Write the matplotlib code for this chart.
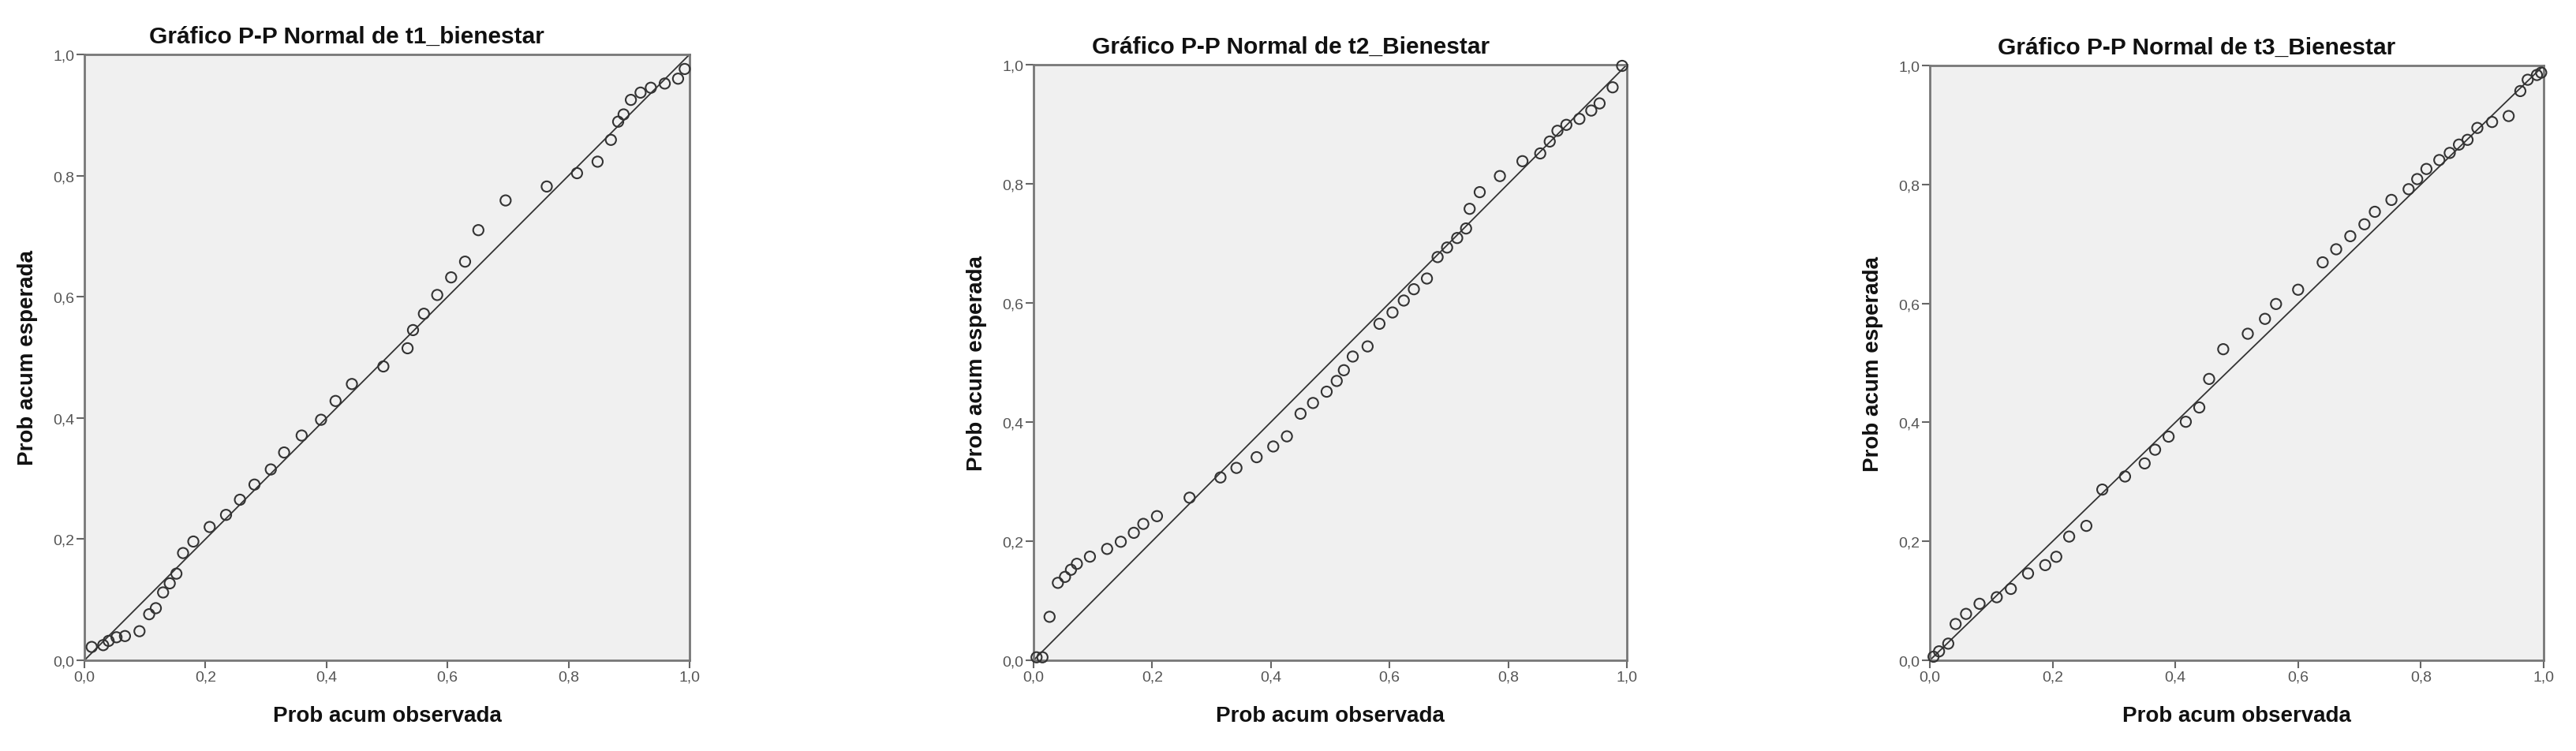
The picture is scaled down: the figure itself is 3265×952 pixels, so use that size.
import matplotlib
matplotlib.use("Agg")
import matplotlib.pyplot as plt
from matplotlib.ticker import FuncFormatter

plt.rcParams['font.family'] = ['Liberation Sans', 'DejaVu Sans']

t1_obs = [0.012, 0.031, 0.040, 0.053, 0.067, 0.091, 0.107, 0.118, 0.130, 0.141,
          0.152, 0.163, 0.180, 0.207, 0.234, 0.257, 0.281, 0.308, 0.330, 0.359,
          0.391, 0.415, 0.442, 0.494, 0.534, 0.543, 0.561, 0.583, 0.606, 0.629,
          0.651, 0.696, 0.764, 0.814, 0.848, 0.870, 0.882, 0.891, 0.903, 0.919,
          0.936, 0.959, 0.981, 0.992]
t1_exp = [0.022, 0.025, 0.032, 0.038, 0.040, 0.048, 0.076, 0.086, 0.112, 0.127,
          0.143, 0.177, 0.196, 0.220, 0.240, 0.265, 0.290, 0.315, 0.343, 0.371,
          0.397, 0.428, 0.456, 0.485, 0.515, 0.545, 0.572, 0.603, 0.632, 0.658,
          0.710, 0.759, 0.782, 0.804, 0.823, 0.859, 0.889, 0.901, 0.925, 0.937,
          0.945, 0.952, 0.960, 0.976]

t2_obs = [0.005, 0.015, 0.027, 0.041, 0.053, 0.063, 0.073, 0.095, 0.124, 0.147,
          0.169, 0.185, 0.208, 0.263, 0.315, 0.342, 0.376, 0.404, 0.427, 0.450,
          0.471, 0.494, 0.511, 0.523, 0.538, 0.563, 0.583, 0.605, 0.624, 0.641,
          0.663, 0.681, 0.697, 0.714, 0.729, 0.735, 0.752, 0.786, 0.824, 0.854,
          0.870, 0.883, 0.898, 0.920, 0.940, 0.954, 0.976, 0.992]
t2_exp = [0.005, 0.005, 0.073, 0.130, 0.140, 0.152, 0.162, 0.174, 0.187, 0.199,
          0.214, 0.229, 0.242, 0.273, 0.307, 0.323, 0.341, 0.359, 0.376, 0.414,
          0.432, 0.451, 0.469, 0.487, 0.510, 0.527, 0.565, 0.584, 0.604, 0.623,
          0.641, 0.677, 0.693, 0.709, 0.725, 0.758, 0.786, 0.813, 0.838, 0.851,
          0.871, 0.889, 0.899, 0.909, 0.923, 0.935, 0.962, 0.998]

t3_obs = [0.006, 0.015, 0.030, 0.042, 0.059, 0.081, 0.109, 0.132, 0.160, 0.188,
          0.206, 0.227, 0.255, 0.281, 0.318, 0.350, 0.367, 0.389, 0.417, 0.439,
          0.455, 0.478, 0.518, 0.546, 0.564, 0.600, 0.640, 0.662, 0.685, 0.708,
          0.725, 0.752, 0.780, 0.794, 0.809, 0.830, 0.847, 0.862, 0.876, 0.892,
          0.916, 0.943, 0.962, 0.974, 0.989, 0.996]
t3_exp = [0.006, 0.015, 0.028, 0.061, 0.078, 0.095, 0.106, 0.120, 0.146, 0.160,
          0.174, 0.208, 0.226, 0.287, 0.309, 0.331, 0.354, 0.376, 0.401, 0.425,
          0.473, 0.523, 0.549, 0.574, 0.599, 0.623, 0.669, 0.691, 0.713, 0.733,
          0.754, 0.774, 0.792, 0.809, 0.826, 0.841, 0.853, 0.867, 0.875, 0.895,
          0.905, 0.915, 0.957, 0.976, 0.984, 0.988]

titles = ['Gráfico P-P Normal de t1_bienestar',
          'Gráfico P-P Normal de t2_Bienestar',
          'Gráfico P-P Normal de t3_Bienestar']
ticks = [0.0, 0.2, 0.4, 0.6, 0.8, 1.0]

W, H = 3266, 953
# axes boxes in pixels: left, top, right, bottom
boxes = [(107, 70, 874, 838), (1310, 83, 2062, 838), (2446, 84, 3224, 838)]

fig = plt.figure(figsize=(W / 100, H / 100), dpi=100)
comma = FuncFormatter(lambda v, p: f'{v:.1f}'.replace('.', ','))

for (l, t, r, b), title, xs, ys in zip(boxes, titles, [t1_obs, t2_obs, t3_obs],
                                       [t1_exp, t2_exp, t3_exp]):
    ax = fig.add_axes([l / W, (H - b) / H, (r - l) / W, (b - t) / H])
    ax.set_facecolor('#f0f0f0')
    ax.plot([0, 1], [0, 1], color='#333333', lw=1.3, zorder=2)
    ax.scatter(xs, ys, s=90, facecolors='none', edgecolors='#333333',
               linewidths=1.5, zorder=3, clip_on=False)
    ax.set_xlim(0, 1)
    ax.set_ylim(0, 1)
    ax.set_xticks(ticks)
    ax.set_yticks(ticks)
    ax.xaxis.set_major_formatter(comma)
    ax.yaxis.set_major_formatter(comma)
    ax.tick_params(direction='out', length=7, width=1.5, color='#666666',
                   labelcolor='#555555', labelsize=14, pad=2)
    for s in ax.spines.values():
        s.set_color('#777777')
        s.set_linewidth(2)
    # SPSS centres the title over the whole chart frame, a bit left of the axes centre
    ax.set_title(title, x=0.434, fontsize=21.5, fontweight='bold', pad=11, color='#111111')
    ax.set_xlabel('Prob acum observada', fontsize=20, fontweight='bold', color='#111111')
    ax.set_ylabel('Prob acum esperada', fontsize=20, fontweight='bold', color='#111111')
    ax.xaxis.label.set_va('center')
    ax.yaxis.label.set_va('center')
    ax.xaxis.set_label_coords(0.5, -70 / (b - t))
    ax.yaxis.set_label_coords(-72 / (r - l), 0.5)

fig.savefig('out.png', dpi=100, facecolor='white')
